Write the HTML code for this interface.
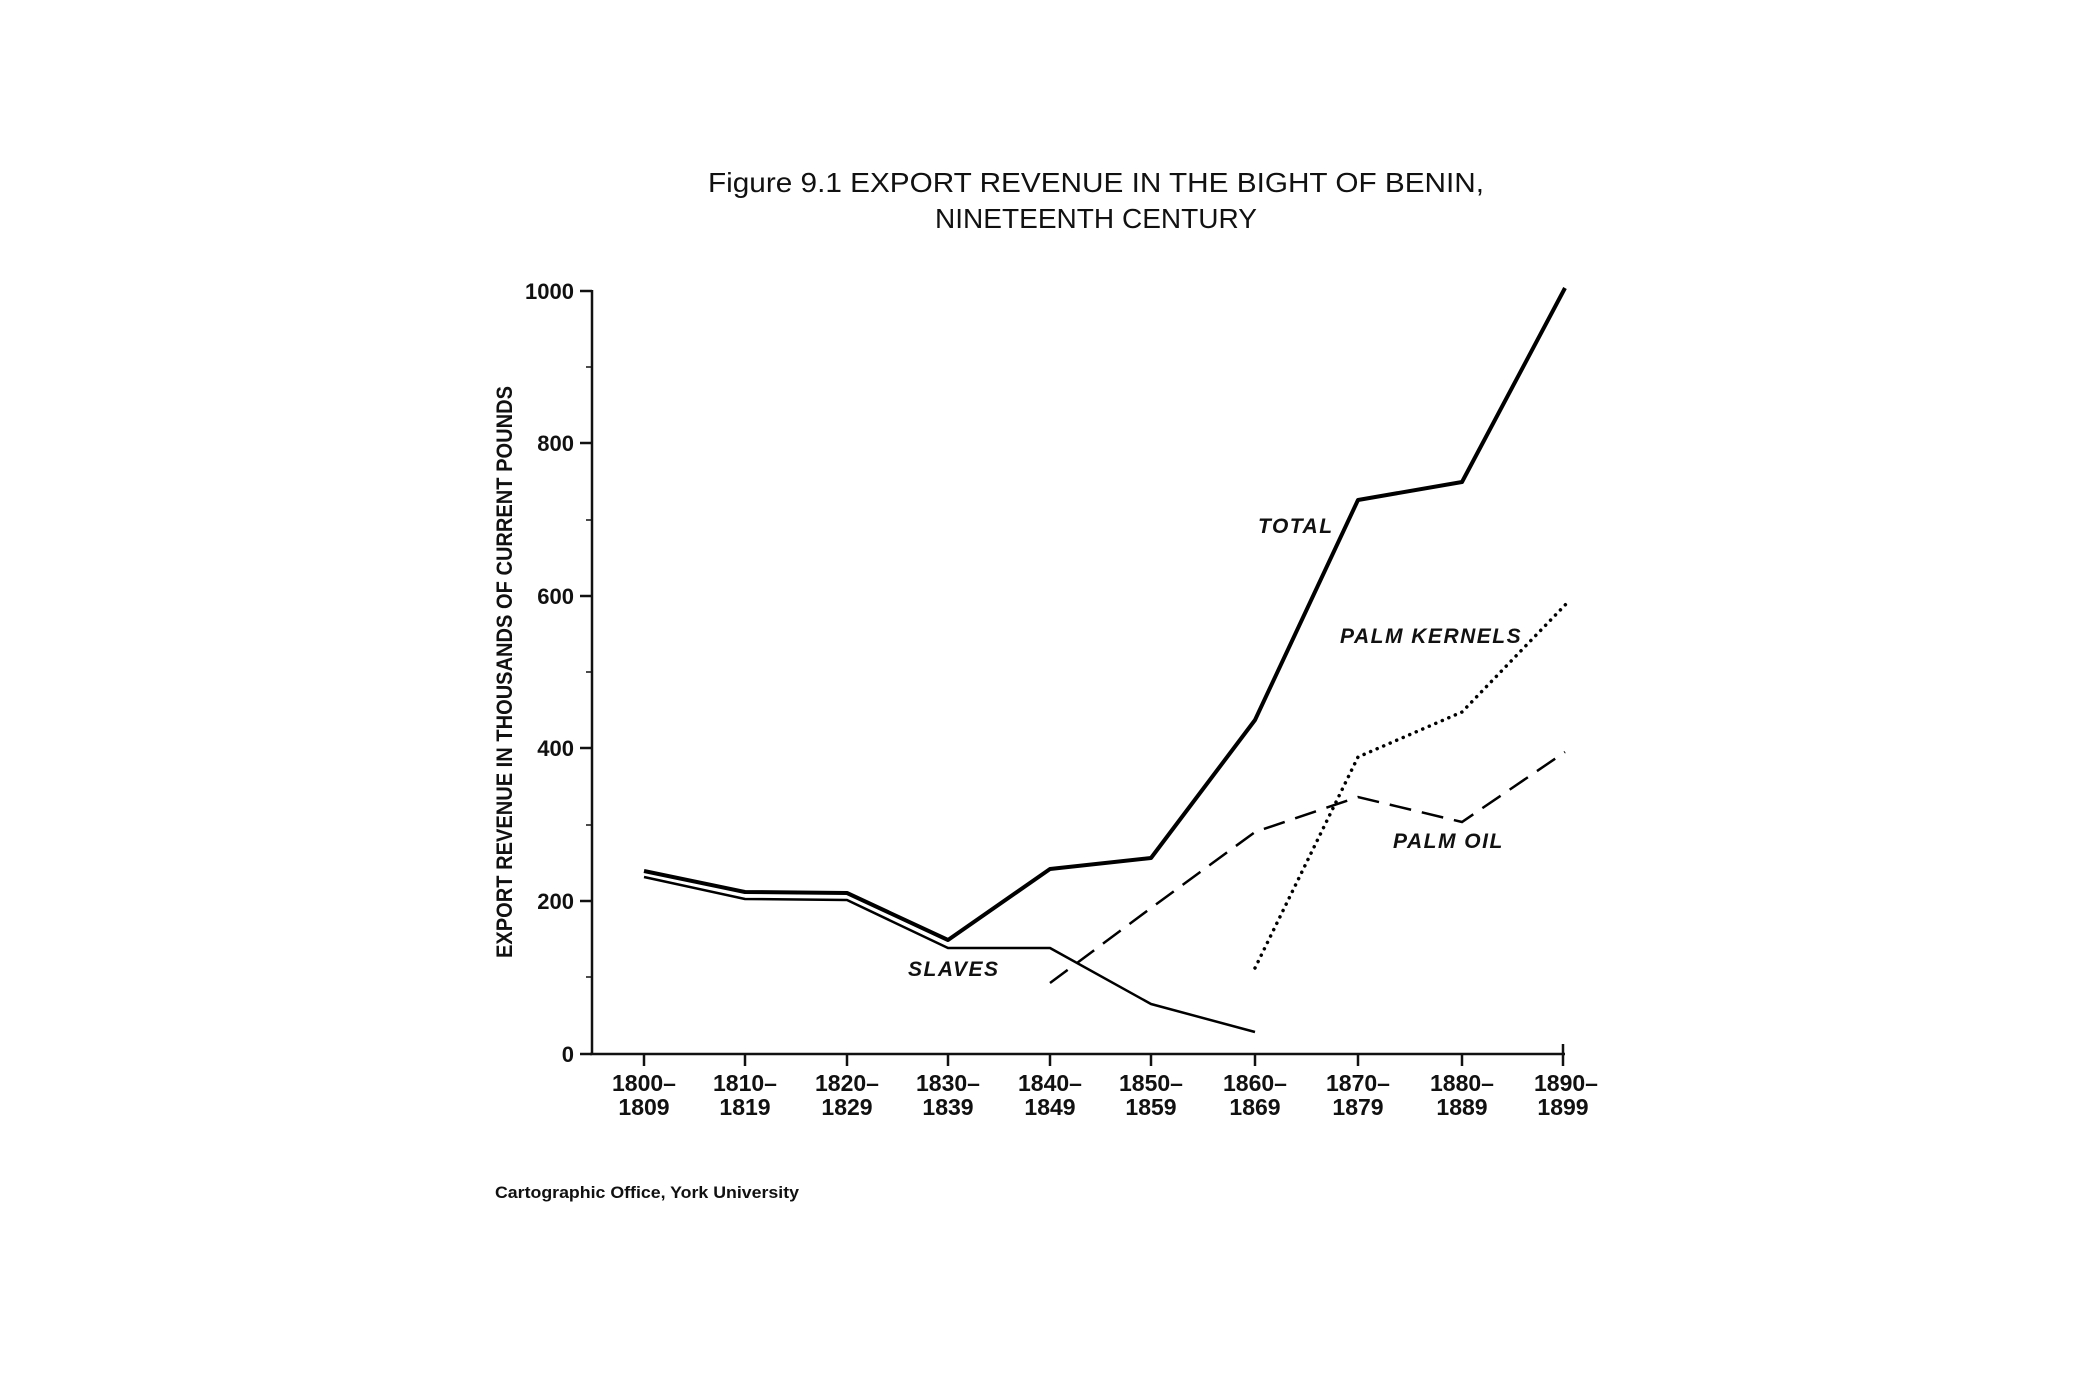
<!DOCTYPE html>
<html><head><meta charset="utf-8"><style>
html,body{margin:0;padding:0;background:#fff;}
svg{display:block;}
text{font-family:"Liberation Sans",sans-serif;fill:#111;}
</style></head><body>
<svg width="2082" height="1380" viewBox="0 0 2082 1380" xmlns="http://www.w3.org/2000/svg">
<rect width="2082" height="1380" fill="#fff"/>
<text x="1096" y="192" font-size="28" text-anchor="middle" textLength="776" lengthAdjust="spacingAndGlyphs">Figure 9.1  EXPORT REVENUE IN THE BIGHT OF BENIN,</text>
<text x="1096" y="228" font-size="28" text-anchor="middle" textLength="322" lengthAdjust="spacingAndGlyphs">NINETEENTH CENTURY</text>
<text transform="translate(512 672) rotate(-90)" font-size="22" font-weight="bold" text-anchor="middle" textLength="572" lengthAdjust="spacingAndGlyphs">EXPORT REVENUE IN THOUSANDS OF CURRENT POUNDS</text>
<g stroke="#111" stroke-width="2.5" fill="none">
<line x1="592" y1="290" x2="592" y2="1054"/>
<line x1="590" y1="1054" x2="1565" y2="1054"/>
<line x1="580" y1="291" x2="592" y2="291"/>
<line x1="580" y1="443" x2="592" y2="443"/>
<line x1="580" y1="596" x2="592" y2="596"/>
<line x1="580" y1="748" x2="592" y2="748"/>
<line x1="580" y1="901" x2="592" y2="901"/>
<line x1="580" y1="1054" x2="592" y2="1054"/>
<g stroke-width="1.5">
<line x1="586" y1="367" x2="592" y2="367"/><line x1="586" y1="520" x2="592" y2="520"/>
<line x1="586" y1="672" x2="592" y2="672"/><line x1="586" y1="825" x2="592" y2="825"/>
<line x1="586" y1="977" x2="592" y2="977"/>
</g>
<line x1="644" y1="1054" x2="644" y2="1066"/><line x1="745" y1="1054" x2="745" y2="1066"/>
<line x1="847" y1="1054" x2="847" y2="1066"/><line x1="948" y1="1054" x2="948" y2="1066"/>
<line x1="1050" y1="1054" x2="1050" y2="1066"/><line x1="1151" y1="1054" x2="1151" y2="1066"/>
<line x1="1255" y1="1054" x2="1255" y2="1066"/><line x1="1358" y1="1054" x2="1358" y2="1066"/>
<line x1="1462" y1="1054" x2="1462" y2="1066"/><line x1="1563" y1="1044" x2="1563" y2="1066"/>
</g>
<g font-size="22" font-weight="bold" text-anchor="end">
<text x="574" y="299">1000</text><text x="574" y="451">800</text><text x="574" y="604">600</text>
<text x="574" y="756">400</text><text x="574" y="909">200</text><text x="574" y="1062">0</text>
</g>
<g font-size="23" font-weight="bold" text-anchor="middle">
<text x="644" y="1091">1800–</text><text x="644" y="1115">1809</text>
<text x="745" y="1091">1810–</text><text x="745" y="1115">1819</text>
<text x="847" y="1091">1820–</text><text x="847" y="1115">1829</text>
<text x="948" y="1091">1830–</text><text x="948" y="1115">1839</text>
<text x="1050" y="1091">1840–</text><text x="1050" y="1115">1849</text>
<text x="1151" y="1091">1850–</text><text x="1151" y="1115">1859</text>
<text x="1255" y="1091">1860–</text><text x="1255" y="1115">1869</text>
<text x="1358" y="1091">1870–</text><text x="1358" y="1115">1879</text>
<text x="1462" y="1091">1880–</text><text x="1462" y="1115">1889</text>
<text x="1566" y="1091">1890–</text><text x="1563" y="1115">1899</text>
</g>
<polyline fill="none" stroke="#000" stroke-width="4" stroke-linejoin="round" points="644,871 745,892 847,893 948,940 1050,869 1151,858 1255,720 1358,500 1462,482 1565,288"/>
<polyline fill="none" stroke="#000" stroke-width="2.5" stroke-linejoin="round" points="644,877 745,899 847,900 948,948 1050,948 1151,1004 1255,1032"/>
<polyline fill="none" stroke="#000" stroke-width="2.5" stroke-dasharray="22 11" points="1050,983 1151,908 1255,832 1358,797 1462,822 1565,752"/>
<polyline fill="none" stroke="#000" stroke-width="3.5" stroke-linecap="round" stroke-dasharray="0.1 7" points="1255,968 1358,757 1462,712 1568,602"/>
<g font-size="21" font-style="italic" font-weight="bold" letter-spacing="1.5">
<text x="1258" y="533">TOTAL</text>
<text x="1340" y="643">PALM KERNELS</text>
<text x="1393" y="848">PALM OIL</text>
<text x="908" y="976">SLAVES</text>
</g>
<text x="495" y="1198" font-size="17" font-weight="bold" textLength="304" lengthAdjust="spacingAndGlyphs">Cartographic Office, York University</text>
</svg>
</body></html>
